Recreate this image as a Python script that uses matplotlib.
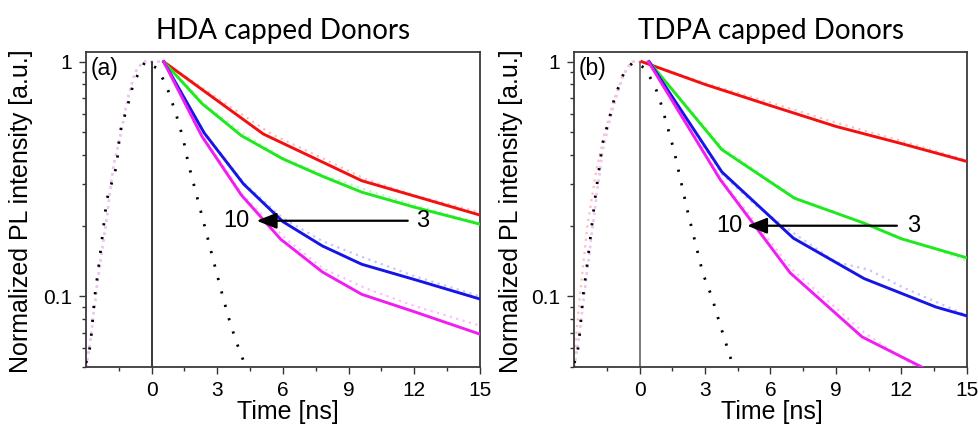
import matplotlib
matplotlib.use("Agg")
import matplotlib.pyplot as plt
from matplotlib.ticker import FixedLocator, NullFormatter, FixedFormatter, LogLocator

# ---------------- data ----------------
titles = ["HDA capped Donors", "TDPA capped Donors"]
panel_labels = ["(a)", "(b)"]
x_major = [0, 3, 6, 9, 12, 15]
x_minor = [-1.5, 1.5, 4.5, 7.5, 10.5, 13.5]
y_major = [0.1, 1]
y_major_labels = ["0.1", "1"]

# Panel (a) fits (solid)
A_red_t = [0.55, 5.1, 9.6, 15]
A_red_y = [1.0, 0.492, 0.311, 0.222]
A_green_t = [0.55, 2.3, 4.1, 6.0, 7.8, 9.6, 12, 15]
A_green_y = [1.0, 0.663, 0.484, 0.385, 0.325, 0.278, 0.240, 0.203]
A_blue_t = [0.55, 2.4, 4.2, 6.0, 7.8, 9.6, 12, 15]
A_blue_y = [1.0, 0.497, 0.301, 0.208, 0.164, 0.137, 0.118, 0.0974]
A_mag_t = [0.55, 2.3, 4.1, 5.9, 7.8, 9.6, 12, 15]
A_mag_y = [1.0, 0.48, 0.27, 0.175, 0.127, 0.102, 0.086, 0.069]

# Panel (a) measured data (faint dotted)
A_rise_t = [-3.0, -2.8, -2.5, -2.1, -1.75, -1.4, -1.07, -0.76, -0.4, 0.0, 0.55]
A_rise_y = [0.05, 0.065, 0.11, 0.20, 0.36, 0.50, 0.71, 0.90, 1.0, 1.0, 1.0]
A_red_dt = [0.55, 3, 5.5, 7.5, 9.8, 12, 15]
A_red_dy = [1.0, 0.70, 0.49, 0.40, 0.315, 0.27, 0.228]
A_green_dt = [0.55, 2.5, 4.3, 6, 8, 10, 12, 15]
A_green_dy = [1.0, 0.65, 0.485, 0.39, 0.325, 0.28, 0.245, 0.205]
A_blue_dt = [0.55, 2.4, 4.2, 6, 7.8, 9.8, 12, 15]
A_blue_dy = [1.0, 0.50, 0.305, 0.215, 0.172, 0.145, 0.122, 0.10]
A_mag_dt = [0.55, 2.3, 4.1, 6, 7.8, 9.8, 12, 15]
A_mag_dy = [1.0, 0.49, 0.275, 0.18, 0.132, 0.108, 0.091, 0.075]

# Panel (a) instrument response (black dotted)
A_irf_t = [-3.0, -2.9, -2.8, -2.6, -2.4, -2.05, -1.6, -1.45, -0.98, -0.84, -0.3,
           0.23, 0.53, 0.76, 1.11, 1.44, 1.67, 2.3, 2.92, 3.2, 3.5, 3.84, 4.3]
A_irf_y = [0.052, 0.056, 0.062, 0.10, 0.139, 0.258, 0.36, 0.50, 0.71, 0.81, 1.0,
           0.94, 0.84, 0.75, 0.60, 0.47, 0.37, 0.22, 0.131, 0.104, 0.082, 0.065, 0.05]

# Panel (b) fits (solid)
B_red_t = [0.1, 3, 6, 9, 12, 15]
B_red_y = [1.0, 0.80, 0.65, 0.53, 0.448, 0.376]
B_green_t = [0.43, 3.77, 7.1, 10.3, 12, 15]
B_green_y = [1.0, 0.422, 0.262, 0.205, 0.176, 0.146]
B_blue_t = [0.43, 3.77, 7.05, 10.3, 13.6, 15]
B_blue_y = [1.0, 0.339, 0.177, 0.119, 0.090, 0.0826]
B_mag_t = [0.4, 3.7, 6.9, 10.2, 15]
B_mag_y = [1.0, 0.314, 0.126, 0.0672, 0.040]

# Panel (b) measured data (faint dotted)
B_rise_t = [-3.0, -2.8, -2.5, -2.1, -1.7, -1.4, -1.1, -0.75, -0.35, 0.0, 0.43]
B_rise_y = [0.05, 0.065, 0.11, 0.22, 0.42, 0.55, 0.70, 0.88, 1.0, 1.0, 1.0]
B_red_rise_t = [-3.0, -2.9, -2.7, -2.4, -2.0, -1.6, -1.2, -0.8, -0.4, 0.1]
B_red_rise_y = [0.05, 0.07, 0.11, 0.2, 0.34, 0.5, 0.68, 0.86, 1.0, 1.0]
B_red_dt = [0.1, 3, 6, 9, 12, 15]
B_red_dy = [1.0, 0.81, 0.67, 0.55, 0.46, 0.38]
B_green_dt = [0.43, 3.8, 7.1, 10.3, 12, 15]
B_green_dy = [1.0, 0.43, 0.265, 0.205, 0.178, 0.142]
B_blue_dt = [0.43, 3.8, 5.3, 7.1, 9, 10.5, 12, 15]
B_blue_dy = [1.0, 0.33, 0.245, 0.185, 0.14, 0.13, 0.11, 0.083]
B_mag_dt = [0.4, 3.7, 7, 10.3, 12.7]
B_mag_dy = [1.0, 0.32, 0.13, 0.07, 0.05]

# Panel (b) instrument response
B_irf_t = [-3.0, -2.9, -2.8, -2.6, -2.4, -2.05, -1.7, -1.4, -1.14, -0.92, -0.72, -0.29,
           0.23, 0.53, 0.78, 0.96, 1.27, 1.57, 2.2, 2.9, 3.3, 3.7, 4.3]
B_irf_y = [0.052, 0.056, 0.062, 0.10, 0.139, 0.26, 0.45, 0.57, 0.71, 0.80, 0.90, 1.0,
           0.94, 0.84, 0.75, 0.67, 0.53, 0.42, 0.23, 0.125, 0.1, 0.075, 0.05]

# Arrow annotation (tail, head, y, labels)
arrow_a = dict(tail=11.7, head=4.8, y=0.21, left_x=4.45, right_x=12.1)
arrow_b = dict(tail=11.8, head=4.93, y=0.20, left_x=4.7, right_x=12.25)

COL = {"red": "#f21010", "green": "#1fe81f", "blue": "#1515e6", "mag": "#f01ef0"}
PALE = {"red": "#ffbcbc", "green": "#bdf7bd", "blue": "#c4c4ff", "mag": "#ffbcff"}

# ---------------- figure ----------------
plt.rcParams['font.family'] = ['Liberation Sans', 'DejaVu Sans']
fig = plt.figure(figsize=(9.79, 4.25), dpi=100)
W, H = 979, 425
ax1 = fig.add_axes([86 / W, 1 - 367 / H, 394 / W, 315 / H])
ax2 = fig.add_axes([574.3 / W, 1 - 367 / H, 392.4 / W, 315 / H])

panels = [
    (ax1, A_irf_t, A_irf_y,
     [(A_rise_t, A_rise_y, "red"), (A_rise_t, A_rise_y, "blue"), (A_rise_t, A_rise_y, "green"), (A_rise_t, A_rise_y, "mag")],
     [(A_red_dt, A_red_dy, "red"), (A_green_dt, A_green_dy, "green"), (A_blue_dt, A_blue_dy, "blue"), (A_mag_dt, A_mag_dy, "mag")],
     [(A_red_t, A_red_y, "red"), (A_green_t, A_green_y, "green"), (A_blue_t, A_blue_y, "blue"), (A_mag_t, A_mag_y, "mag")],
     arrow_a, "black", -0.135, 0.513),
    (ax2, B_irf_t, B_irf_y,
     [(B_red_rise_t, B_red_rise_y, "red"), (B_rise_t, B_rise_y, "blue"), (B_rise_t, B_rise_y, "green"), (B_rise_t, B_rise_y, "mag")],
     [(B_red_dt, B_red_dy, "red"), (B_green_dt, B_green_dy, "green"), (B_blue_dt, B_blue_dy, "blue"), (B_mag_dt, B_mag_dy, "mag")],
     [(B_red_t, B_red_y, "red"), (B_green_t, B_green_y, "green"), (B_blue_t, B_blue_y, "blue"), (B_mag_t, B_mag_y, "mag")],
     arrow_b, "#555555", -0.131, 0.503),
]

for i, (ax, it, iy, rises, datas, fits, arr, vcol, ylx, xlx) in enumerate(panels):
    ax.set_yscale("log")
    ax.set_xlim(-3, 15)
    ax.set_ylim(0.05, 1.1)

    # vertical line at t = 0 up to 1
    ax.plot([0, 0], [0.05, 1.0], color=vcol, lw=1.1, zorder=2)

    for t, y, c in rises:
        ax.plot(t, y, color=PALE[c], lw=1.6, ls=(0, (1, 2)), zorder=1)
    for t, y, c in datas:
        ax.plot(t, y, color=PALE[c], lw=1.6, ls=(0, (1, 2)), zorder=1)
    ax.plot(it, iy, color="black", lw=2.0, ls=(0, (0.8, 4.2)), zorder=3)
    for t, y, c in fits:
        ax.plot(t, y, color=COL[c], lw=2.1, zorder=4, solid_joinstyle="round")

    ax.annotate("", xy=(arr["head"], arr["y"]), xytext=(arr["tail"], arr["y"]),
                arrowprops=dict(arrowstyle="-|>,head_length=0.55,head_width=0.22",
                                color="black", lw=1.6, mutation_scale=22,
                                shrinkA=0, shrinkB=0), zorder=6)
    ax.text(arr["left_x"], arr["y"], "10", ha="right", va="center", fontsize=17, zorder=7)
    ax.text(arr["right_x"], arr["y"], "3", ha="left", va="center", fontsize=17, zorder=7)

    ax.text(0.012, 0.985, panel_labels[i], transform=ax.transAxes, ha="left", va="top",
            fontsize=16.5)

    ax.xaxis.set_major_locator(FixedLocator(x_major))
    ax.xaxis.set_minor_locator(FixedLocator(x_minor))
    ax.yaxis.set_major_locator(FixedLocator(y_major))
    ax.yaxis.set_major_formatter(FixedFormatter(y_major_labels))
    ax.yaxis.set_minor_locator(LogLocator(base=10, subs=[2, 3, 4, 5, 6, 7, 8, 9]))
    ax.yaxis.set_minor_formatter(NullFormatter())

    ax.tick_params(which="major", direction="out", length=5, width=1.0, labelsize=15,
                   pad=5, color="#333333")
    ax.tick_params(which="minor", direction="out", length=3, width=1.0, color="#333333")
    ax.tick_params(axis="x", which="major", pad=5)
    ax.tick_params(top=False, right=False, which="both")
    for s in ax.spines.values():
        s.set_linewidth(1.3)
        s.set_color("#3a3a3a")

    ax.set_xlabel("Time [ns]", fontsize=18)
    ax.xaxis.set_label_coords(xlx, -0.105)
    ax.set_ylabel("Normalized PL intensity [a.u.]", fontsize=18)
    ax.yaxis.set_label_coords(ylx, 0.495)
    ax.set_title(titles[i], fontsize=20, family=["Lato", "DejaVu Sans"], pad=9)

fig.savefig("out.png", dpi=100)
